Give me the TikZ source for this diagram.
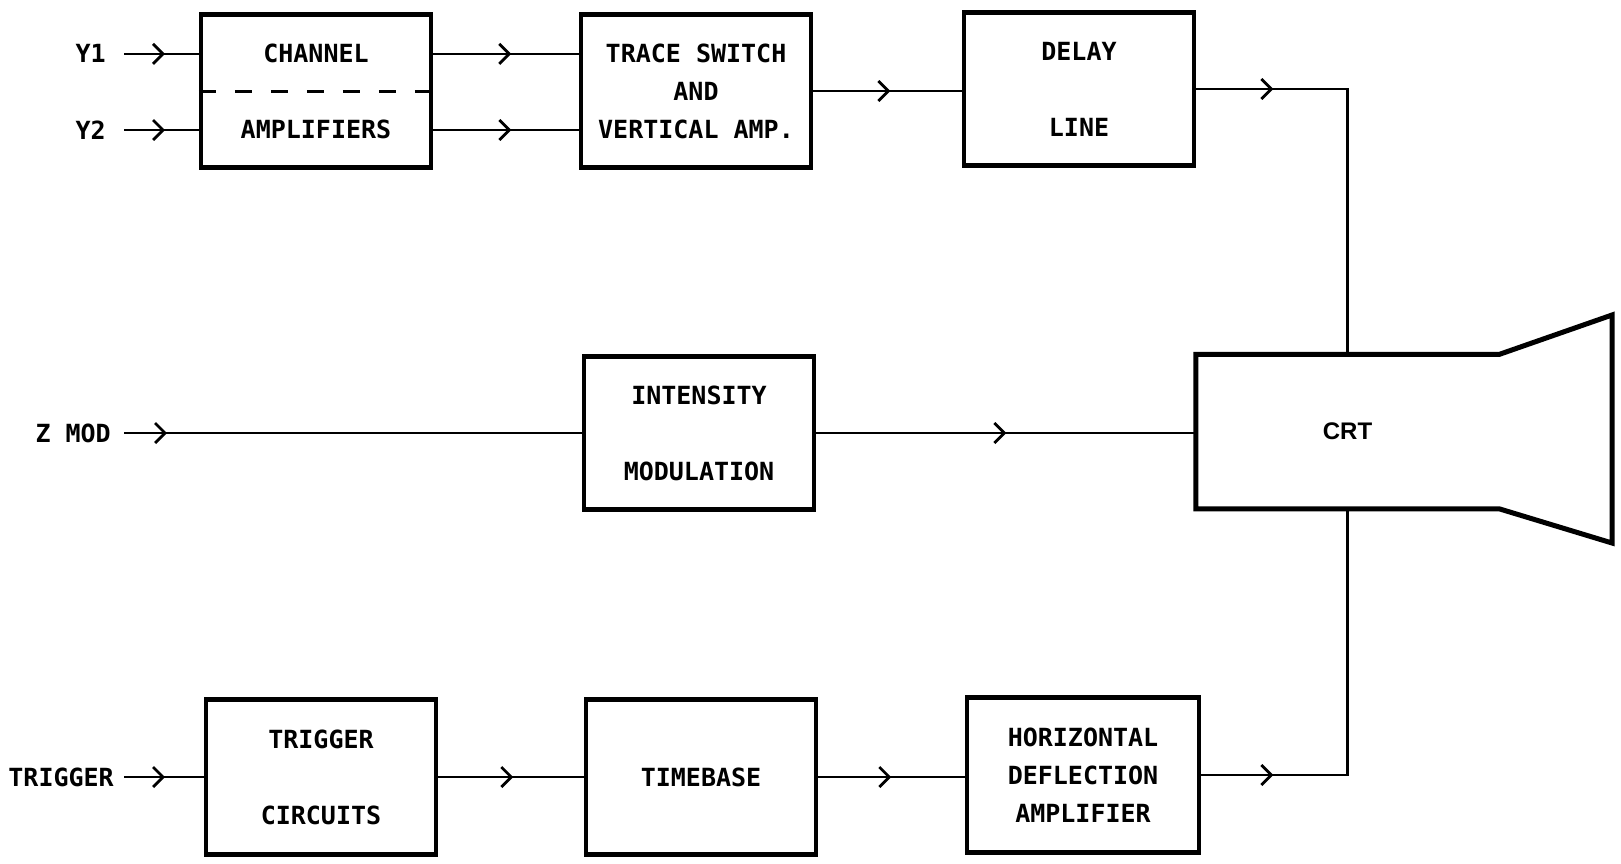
\documentclass[tikz,border=0pt]{standalone}
\usepackage{fontspec}
\setmainfont{DejaVu Sans Mono}
\newfontfamily\crtfont{Liberation Sans}
\usetikzlibrary{arrows.meta,decorations.markings}
\begin{document}
\begin{tikzpicture}[x=1pt,y=-1pt,
  font=\fontsize{25}{38}\selectfont\bfseries,
  box/.style={draw, line width=4.5pt, minimum width=230pt, minimum height=153pt, align=center, inner sep=0pt},
  lbl/.style={inner ysep=0pt, anchor=east},
  conn/.style={line width=2.4pt},
  dashline/.style={line width=3pt, dash pattern=on 17pt off 19pt},
  midarrow/.style={postaction={decorate}, decoration={markings, mark=at position #1 with {\arrow[line width=2.8pt]{Straight Barb[length=10pt,width=20pt]}}}}
]
\useasboundingbox (0,0) rectangle (1621,863);

% boxes
\node[box] (chan) at (316,91) {CHANNEL\\[38pt]AMPLIFIERS};
\node[box] (trace) at (696,91) {TRACE SWITCH\\AND\\VERTICAL AMP.};
\node[box] (delay) at (1079,89) {DELAY\\[38pt]LINE};
\node[box] (intens) at (699,433) {INTENSITY\\[38pt]MODULATION};
\node[box, minimum height=155pt] (trig) at (321,777) {TRIGGER\\[38pt]CIRCUITS};
\node[box, minimum height=155pt] (timebase) at (701,777) {TIMEBASE};
\node[box, minimum height=155pt, minimum width=232pt] (horiz) at (1083,775) {HORIZONTAL\\DEFLECTION\\AMPLIFIER};

\draw[dashline] (chan.west) -- (chan.east);

% CRT
\node[minimum width=303pt, minimum height=154pt, inner sep=0pt] (crt) at (1347.5,431.6) {\crtfont\bfseries\fontsize{24}{28}\selectfont CRT};
\draw[line width=5pt, line join=miter] (crt.north east) -- (crt.north west) -- (crt.south west) -- (crt.south east) -- (1612,543) -- (1612,315) -- cycle;

% labels
\node[lbl, inner xsep=18pt] (y1) at (124,53.8) {Y1};
\node[lbl, inner xsep=18pt] (y2) at (124,130) {Y2};
\node[lbl, inner xsep=13pt] (zmod) at (124,433) {Z MOD};
\node[lbl, inner xsep=10pt] (trg) at (124,777) {TRIGGER};

% connectors
\draw[conn, midarrow=41pt] (y1) -- (y1 -| chan.west);
\draw[conn, midarrow=41pt] (y2) -- (y2 -| chan.west);
\draw[conn, midarrow=78pt] (chan.east |- y1) -- (y1 -| trace.west);
\draw[conn, midarrow=78pt] (chan.east |- y2) -- (y2 -| trace.west);
\draw[conn, midarrow=77pt] (trace) -- (trace -| delay.west);
\draw[conn, midarrow=77pt] (delay.east) -| (crt.north);
\draw[conn, midarrow=43pt] (zmod) -- (zmod -| intens.west);
\draw[conn, midarrow=190pt] (intens) -- (intens -| crt.west);
\draw[conn, midarrow=41pt] (trg) -- (trg -| trig.west);
\draw[conn, midarrow=75pt] (trig) -- (trig -| timebase.west);
\draw[conn, midarrow=73pt] (timebase) -- (timebase -| horiz.west);
\draw[conn, midarrow=72pt] (horiz.east) -| (crt.south);
\end{tikzpicture}
\end{document}
